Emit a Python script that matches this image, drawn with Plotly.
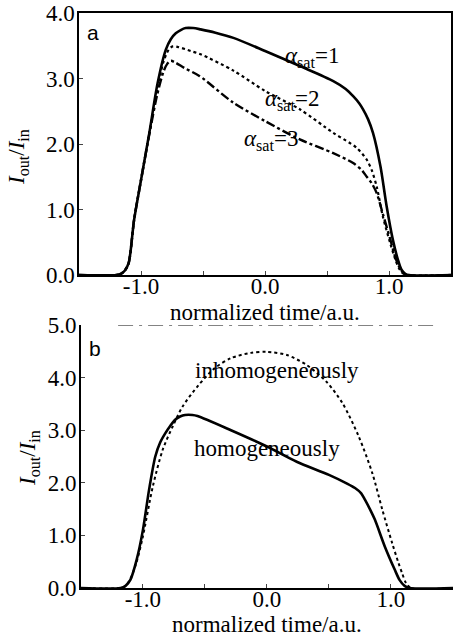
import plotly.graph_objects as go

# ---- panel a data ----
xa1 = [-1.5, -1.2, -1.16, -1.13, -1.1, -1.056, -1.0, -0.933, -0.866, -0.8, -0.76, -0.72, -0.68, -0.64, -0.58, -0.52, -0.4, -0.255, 0.0, 0.28, 0.55, 0.65, 0.71, 0.76, 0.79, 0.83, 0.87, 0.93, 0.98, 1.03, 1.07, 1.1, 1.13, 1.16, 1.5]
ya1 = [0.0, 0.0, 0.02, 0.07, 0.18, 0.84, 1.45, 2.17, 2.93, 3.44, 3.6, 3.69, 3.74, 3.77, 3.77, 3.75, 3.7, 3.62, 3.42, 3.19, 2.96, 2.84, 2.73, 2.62, 2.53, 2.38, 2.17, 1.66, 1.05, 0.54, 0.24, 0.08, 0.02, 0.0, 0.0]

xa2 = [-1.5, -1.2, -1.16, -1.13, -1.1, -1.056, -1.0, -0.933, -0.866, -0.82, -0.78, -0.745, -0.7, -0.6, -0.52, -0.255, 0.0, 0.28, 0.55, 0.68, 0.74, 0.82, 0.86, 0.9, 0.95, 1.01, 1.05, 1.08, 1.11, 1.14, 1.5]
ya2 = [0.0, 0.0, 0.02, 0.07, 0.18, 0.84, 1.45, 2.17, 2.85, 3.25, 3.43, 3.49, 3.48, 3.42, 3.37, 3.12, 2.81, 2.53, 2.17, 2.02, 1.94, 1.76, 1.6, 1.35, 0.89, 0.48, 0.24, 0.1, 0.03, 0.0, 0.0]

xa3 = [-1.5, -1.2, -1.16, -1.13, -1.1, -1.056, -1.0, -0.933, -0.87, -0.82, -0.79, -0.76, -0.72, -0.65, -0.53, -0.255, 0.0, 0.28, 0.55, 0.71, 0.78, 0.82, 0.86, 0.9, 0.95, 1.01, 1.05, 1.08, 1.11, 1.14, 1.5]
ya3 = [0.0, 0.0, 0.02, 0.07, 0.18, 0.84, 1.45, 2.15, 2.75, 3.1, 3.22, 3.27, 3.24, 3.16, 3.04, 2.63, 2.35, 2.07, 1.86, 1.71, 1.6, 1.5, 1.4, 1.25, 0.93, 0.54, 0.27, 0.13, 0.04, 0.0, 0.0]

# ---- panel b data ----
xb_hom = [-1.5, -1.18, -1.14, -1.1, -1.05, -1.0, -0.95, -0.9, -0.86, -0.82, -0.78, -0.74, -0.7, -0.66, -0.6, -0.56, -0.29, 0.0, 0.24, 0.5, 0.65, 0.71, 0.76, 0.79, 0.83, 0.87, 0.95, 1.03, 1.07, 1.11, 1.15, 1.5]
yb_hom = [0.0, 0.0, 0.04, 0.16, 0.54, 1.1, 1.87, 2.5, 2.77, 2.94, 3.08, 3.2, 3.26, 3.29, 3.29, 3.27, 3.0, 2.69, 2.4, 2.15, 1.98, 1.9, 1.8, 1.68, 1.5, 1.3, 0.79, 0.35, 0.15, 0.04, 0.0, 0.0]

xb_inh = [-1.5, -1.18, -1.14, -1.1, -1.05, -1.0, -0.92, -0.84, -0.76, -0.68, -0.55, -0.42, -0.29, -0.13, 0.0, 0.16, 0.32, 0.48, 0.61, 0.74, 0.85, 0.93, 1.01, 1.06, 1.09, 1.12, 1.16, 1.5]
yb_inh = [0.0, 0.0, 0.04, 0.18, 0.5, 0.98, 1.93, 2.63, 3.07, 3.45, 3.86, 4.18, 4.37, 4.47, 4.49, 4.43, 4.24, 3.92, 3.51, 2.88, 2.18, 1.49, 0.85, 0.48, 0.28, 0.1, 0.0, 0.0]

xtick_vals = [-1.0, 0.0, 1.0]
xtick_text = ["-1.0", "0.0", "1.0"]
ytick_a = [0, 1, 2, 3, 4]
ytick_a_text = ["0.0", "1.0", "2.0", "3.0", "4.0"]
ytick_b = [0, 1, 2, 3, 4, 5]
ytick_b_text = ["0.0", "1.0", "2.0", "3.0", "4.0", "5.0"]

SERIF = "Liberation Serif"
FS = 23
fig = go.Figure()

spl = dict(shape="spline", smoothing=0.8)
fig.add_trace(go.Scatter(x=xa1, y=ya1, mode="lines", line=dict(color="black", width=2.6, **spl), xaxis="x", yaxis="y"))
fig.add_trace(go.Scatter(x=xa2, y=ya2, mode="lines", line=dict(color="black", width=2.2, dash="dot", **spl), xaxis="x", yaxis="y"))
fig.add_trace(go.Scatter(x=xa3, y=ya3, mode="lines", line=dict(color="black", width=2.4, dash="dashdot", **spl), xaxis="x", yaxis="y"))
fig.add_trace(go.Scatter(x=xb_hom, y=yb_hom, mode="lines", line=dict(color="black", width=2.6, **spl), xaxis="x2", yaxis="y2"))
fig.add_trace(go.Scatter(x=xb_inh, y=yb_inh, mode="lines", line=dict(color="black", width=2.0, dash="dot", **spl), xaxis="x2", yaxis="y2"))

ytitle = "<i>I</i><sub>out</sub>/<i>I</i><sub>in</sub>"
xtitle = "normalized time/a.u."

common_x = dict(range=[-1.5, 1.5], tickvals=xtick_vals, ticktext=xtick_text, ticks="inside", ticklen=4,
                minor=dict(tickmode="linear", tick0=-1.5, dtick=0.5, ticks="inside", ticklen=4, showgrid=False),
                showline=True, linecolor="black", linewidth=1.5, showgrid=False, zeroline=False,
                ticklabelstandoff=-10,
                tickfont=dict(family=SERIF, size=FS, color="black"))
common_y = dict(ticks="inside", ticklen=4, showline=True, linecolor="black", linewidth=1.5, showgrid=False,
                zeroline=False, tickfont=dict(family=SERIF, size=FS, color="black"),
                ticklabelstandoff=-2)

fig.update_layout(
    width=453, height=637,
    margin=dict(l=79, r=0, t=13, b=49),
    paper_bgcolor="white", plot_bgcolor="white",
    showlegend=False,
    xaxis=dict(**common_x, domain=[0, 0.995], anchor="y", mirror=True),
    yaxis=dict(**common_y, domain=[0.5443, 1.0], range=[0, 4], tickvals=ytick_a, ticktext=ytick_a_text, anchor="x", mirror=True),
    xaxis2=dict(**common_x, domain=[0.005, 1.0], anchor="y2"),
    yaxis2=dict(**common_y, domain=[0, 0.4574], range=[0, 5], tickvals=ytick_b, ticktext=ytick_b_text, anchor="x2"),
)

# dashed top border of panel b
fig.add_shape(type="line", xref="x2", yref="y2", x0=-1.2, x1=1.35, y0=5, y1=5,
              line=dict(color="black", width=1, dash="longdashdot"))

ann_font = dict(family=SERIF, size=FS, color="black")
anns = [
    dict(x=-1.387, y=3.71, xref="x", yref="y", text="a", font=dict(family="Liberation Sans", size=21, color="black")),
    dict(x=0.145, y=3.33, xref="x", yref="y", text="<i>α</i><sub>sat</sub>=1", xanchor="left", font=ann_font),
    dict(x=-0.016, y=2.67, xref="x", yref="y", text="<i>α</i><sub>sat</sub>=2", xanchor="left", font=ann_font),
    dict(x=-0.185, y=2.06, xref="x", yref="y", text="<i>α</i><sub>sat</sub>=3", xanchor="left", font=ann_font),
    dict(x=-1.387, y=4.56, xref="x2", yref="y2", text="b", font=dict(family="Liberation Sans", size=21, color="black")),
    dict(x=0.08, y=4.14, xref="x2", yref="y2", text="inhomogeneously", font=ann_font),
    dict(x=0.0, y=2.66, xref="x2", yref="y2", text="homogeneously", font=ann_font),
    # axis titles
    dict(x=0.498, y=(588 - 312) / 575, xref="paper", yref="paper", text=xtitle, font=ann_font, xanchor="center", yanchor="middle"),
    dict(x=0.503, y=(588 - 624) / 575, xref="paper", yref="paper", text=xtitle, font=ann_font, xanchor="center", yanchor="middle"),
    dict(x=(18 - 79) / 374, y=(588 - 157) / 575, xref="paper", yref="paper", text=ytitle, font=ann_font, textangle=-90, xanchor="center", yanchor="middle"),
    dict(x=(29 - 79) / 374, y=(588 - 458) / 575, xref="paper", yref="paper", text=ytitle, font=ann_font, textangle=-90, xanchor="center", yanchor="middle"),
]
for a in anns:
    a["showarrow"] = False
    fig.add_annotation(**a)

fig.write_html("out.html")
